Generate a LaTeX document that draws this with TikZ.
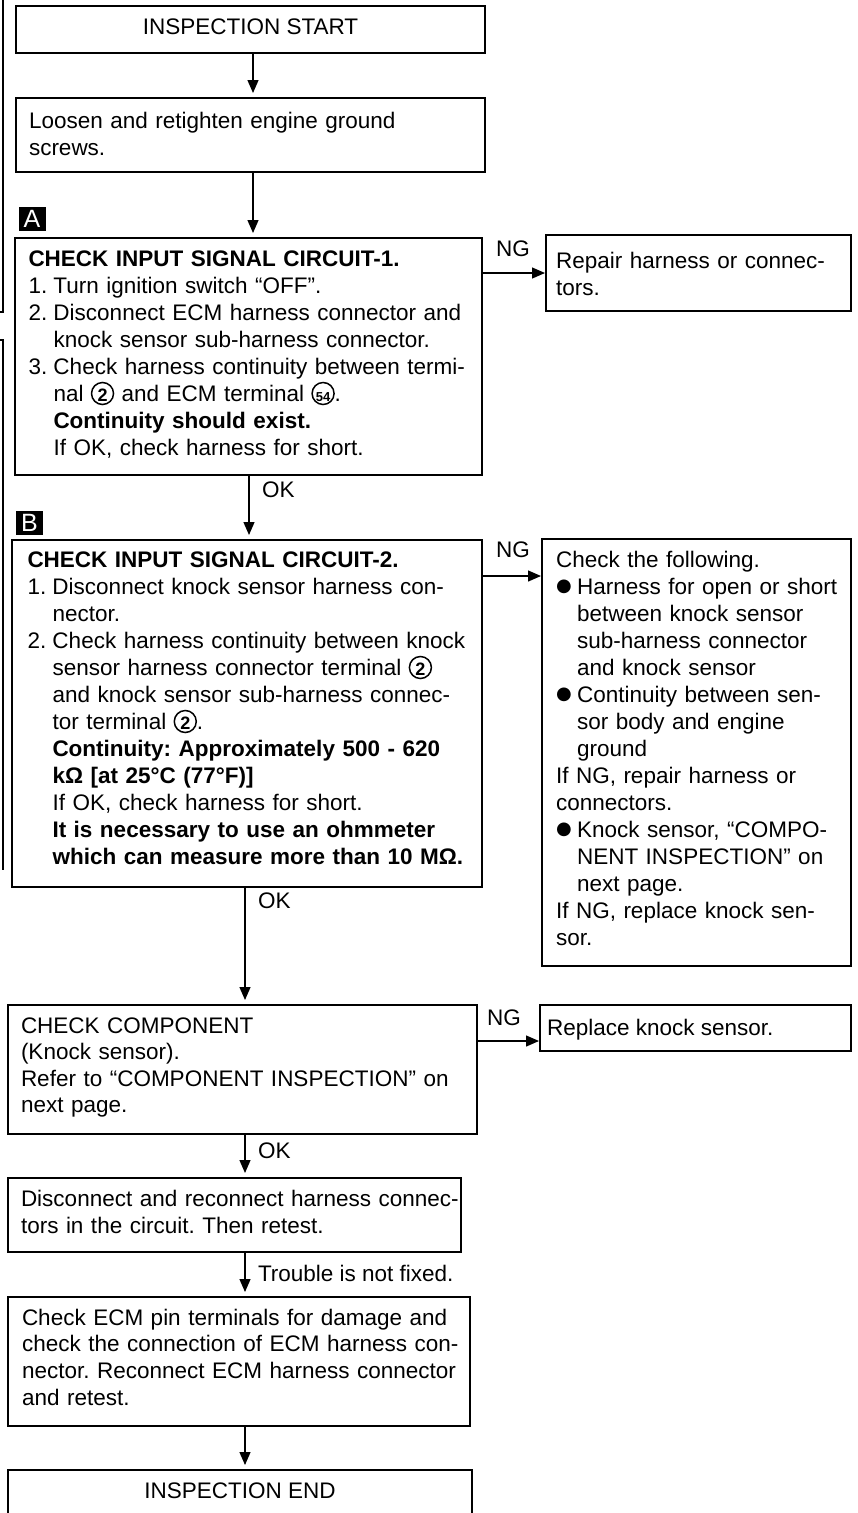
\documentclass[tikz,border=0pt]{standalone}
\usepackage{fontspec}
\setmainfont{Liberation Sans}
\newfontfamily\symfont{DejaVu Sans}
\usetikzlibrary{arrows.meta}
\setlength{\parindent}{0pt}
\frenchspacing

% body text and helpers for hanging indents
\newcommand{\bodyfont}{\fontsize{22.5}{27}\selectfont}
\newcommand{\itm}[1]{\makebox[25pt][l]{#1}}
\newcommand{\ind}{\hspace*{25pt}}
\newcommand{\bul}{\makebox[21pt][l]{\raisebox{2.5pt}{\symfont\fontsize{18}{18}\selectfont ●}}}
\newcommand{\indb}{\hspace*{21pt}}
\newcommand{\fl}{\rule{0pt}{20pt}}
% circled terminal number: ring drawn as an overlay, digits centred on it
\newcommand{\cnum}[2][18]{\makebox[23pt]{\tikz[overlay,x=1pt,y=1pt,baseline=0pt]\draw[line width=1.5pt] (0,7.5) circle[radius=11];\makebox[0pt]{\fontsize{#1}{#1}\selectfont\bfseries #2}}}

\tikzset{
  fbox/.style={draw, line width=1.5pt, inner sep=0pt, outer sep=0pt, anchor=north west},
  txt/.style={inner sep=0pt, outer sep=0pt, anchor=north west, align=left, text width=#1, font=\bodyfont},
  lbl/.style={inner sep=0pt, outer sep=0pt, anchor=base west, font=\bodyfont},
  tagbox/.style={fill=black, text=white, inner sep=0pt, minimum width=27pt, minimum height=24pt, font=\fontsize{25}{25}\selectfont},
  arr/.style={line width=1.3pt, -{Triangle[length=13pt,width=11pt]}, shorten >=5pt},
  harr/.style={line width=1.3pt, -{Triangle[length=13pt,width=11pt]}, shorten >=1pt},
  margin/.style={line width=2.2pt}
}

\begin{document}
\begin{tikzpicture}[x=1pt,y=-1pt]
\useasboundingbox (0,0) rectangle (858,1513);
\clip (0,0) rectangle (858,1513);
\fill[white] (0,0) rectangle (858,1513);

% page margin bars
\draw[margin] (3,-2) -- (3,312) -- (0,312);
\draw[margin] (0,340) -- (3,340) -- (3,870);

% boxes
\node[fbox, minimum width=469, minimum height=47]  (start)   at (16,6) {};
\node[fbox, minimum width=469, minimum height=74]  (loosen)  at (16,98) {};
\node[fbox, minimum width=467, minimum height=237] (boxA)    at (15,238) {};
\node[fbox, minimum width=305, minimum height=76]  (repair)  at (546,235) {};
\node[fbox, minimum width=470, minimum height=347] (boxB)    at (12,540) {};
\node[fbox, minimum width=309, minimum height=427] (right2)  at (542,539) {};
\node[fbox, minimum width=469, minimum height=129] (comp)    at (8,1005) {};
\node[fbox, minimum width=311, minimum height=46]  (replace) at (540,1005) {};
\node[fbox, minimum width=453, minimum height=74]  (disc)    at (8,1178) {};
\node[fbox, minimum width=462, minimum height=129] (ecm)     at (8,1297) {};
\node[fbox, minimum width=464, minimum height=80]  (end)     at (8,1470) {};

% section tags
\node[tagbox] (tagA) at (32,219) {A};
\node[tagbox] (tagB) at (29.5,523) {B};

% box texts
\node[lbl, anchor=base] (start-t) at (start.center |- 0,34) {INSPECTION START};
\node[txt=440pt] (loosen-t) at (29,108) {\fl Loosen and retighten engine ground\\screws.};
\node[txt=452pt] (a-t) at (28.5,246) {\fl\textbf{CHECK INPUT SIGNAL CIRCUIT-1.}\\
\itm{1.}Turn ignition switch “OFF”.\\
\itm{2.}Disconnect ECM harness connector and\\
\ind knock sensor sub-harness connector.\\
\itm{3.}Check harness continuity between termi-\\
\ind nal \cnum{2} and ECM terminal \cnum[13]{54}.\\
\ind\textbf{Continuity should exist.}\\
\ind If OK, check harness for short.};
\node[txt=292pt] (repair-t) at (556,248) {\fl Repair harness or connec-\\tors.};
\node[txt=455pt] (b-t) at (27.5,547) {\fl\textbf{CHECK INPUT SIGNAL CIRCUIT-2.}\\
\itm{1.}Disconnect knock sensor harness con-\\
\ind nector.\\
\itm{2.}Check harness continuity between knock\\
\ind sensor harness connector terminal \cnum{2}\\
\ind and knock sensor sub-harness connec-\\
\ind tor terminal \cnum{2}.\\
\ind\textbf{Continuity: Approximately 500 - 620}\\
\ind\textbf{kΩ [at 25°C (77°F)]}\\
\ind If OK, check harness for short.\\
\ind\textbf{It is necessary to use an ohmmeter}\\
\ind\textbf{which can measure more than 10 MΩ.}};
\node[txt=295pt] (r2-t) at (556,547) {\fl Check the following.\\
\bul Harness for open or short\\
\indb between knock sensor\\
\indb sub-harness connector\\
\indb and knock sensor\\
\bul Continuity between sen-\\
\indb sor body and engine\\
\indb ground\\
If NG, repair harness or\\
connectors.\\
\bul Knock sensor, “COMPO-\\
\indb NENT INSPECTION” on\\
\indb next page.\\
If NG, replace knock sen-\\
sor.};
\node[txt=455pt, font=\fontsize{22.5}{26.5}\selectfont] (comp-t) at (21,1013) {\fl CHECK COMPONENT\\
(Knock sensor).\\
Refer to “COMPONENT INSPECTION” on\\
next page.};
\node[lbl] (replace-t) at (547,1035) {Replace knock sensor.};
\node[txt=440pt, font=\fontsize{22.5}{27.5}\selectfont] (disc-t) at (21,1186) {\fl Disconnect and reconnect harness connec-\\
tors in the circuit. Then retest.};
\node[txt=445pt, font=\fontsize{22.5}{26.7}\selectfont] (ecm-t) at (22,1305) {\fl Check ECM pin terminals for damage and\\
check the connection of ECM harness con-\\
nector. Reconnect ECM harness connector\\
and retest.};
\node[lbl, anchor=base] (end-t) at (end.north |- 0,1498) {INSPECTION END};

% connector labels
\node[lbl] (ng1) at (496,256) {NG};
\node[lbl] (ok1) at (262,497) {OK};
\node[lbl] (ng2) at (496,557) {NG};
\node[lbl] (ok2) at (258,908) {OK};
\node[lbl] (ng3) at (487,1025) {NG};
\node[lbl] (ok3) at (258,1158) {OK};
\node[lbl] (trouble) at (258,1281) {Trouble is not fixed.};

% connector lines
\coordinate (spineA) at (253,0);
\coordinate (spineB) at (249,0);
\coordinate (spine)  at (245,0);
\coordinate (ng1y) at (0,273);
\coordinate (ng2y) at (0,576);
\coordinate (ng3y) at (0,1041);

\draw[arr] (start.south -| spineA) -- (loosen.north -| spineA);
\draw[arr] (loosen.south -| spineA) -- (boxA.north -| spineA);
\draw[arr] (boxA.south -| spineB) -- (boxB.north -| spineB);
\draw[arr] (boxB.south -| spine) -- (comp.north -| spine);
\draw[arr] (comp.south -| spine) -- (disc.north -| spine);
\draw[arr] (disc.south -| spine) -- (ecm.north -| spine);
\draw[arr] (ecm.south -| spine) -- (end.north -| spine);

\draw[harr] (boxA.east |- ng1y) -- (repair.west |- ng1y);
\draw[harr] (boxB.east |- ng2y) -- (right2.west |- ng2y);
\draw[harr] (comp.east |- ng3y) -- (replace.west |- ng3y);
\end{tikzpicture}
\end{document}
